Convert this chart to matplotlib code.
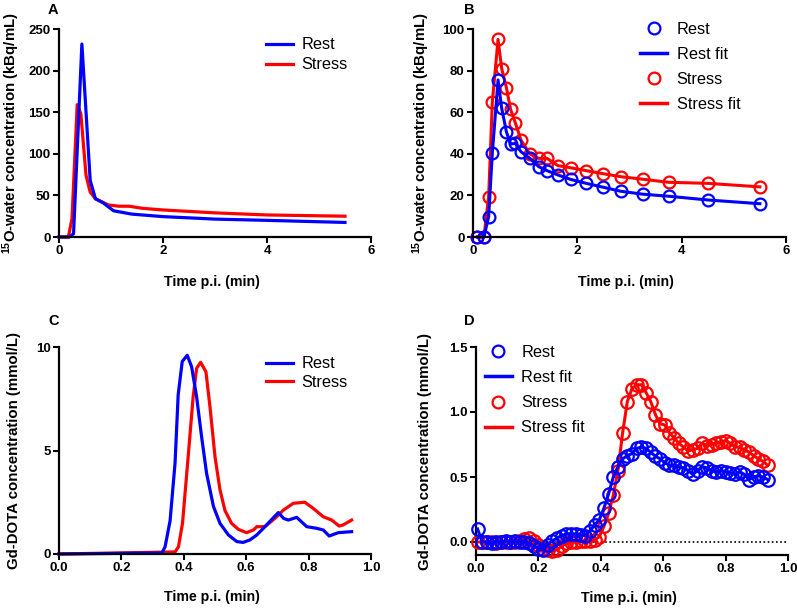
import numpy as np
import matplotlib
matplotlib.use("Agg")
from matplotlib import pyplot as plt
from matplotlib.lines import Line2D

plt.rcParams['font.family'] = ['Liberation Sans', 'DejaVu Sans']
plt.rcParams['font.weight'] = 'bold'
plt.rcParams['axes.labelweight'] = 'bold'
plt.rcParams['mathtext.fontset'] = 'custom'
plt.rcParams['mathtext.rm'] = 'Liberation Sans:bold'
plt.rcParams['mathtext.default'] = 'rm'

BLUE = '#0000ff'
RED = '#ff0000'

# Panel A: 15O-water input curves
rest_a_t = [0.0, 0.2, 0.28, 0.44, 0.6, 0.7, 0.85, 1.05, 1.4, 2.0, 3.0, 4.0, 5.5]
rest_a = [0, 0, 4, 232, 68, 46, 41, 31.5, 27.5, 24.5, 21.5, 20, 17.5]
stress_a_t = [0.0, 0.18, 0.25, 0.35, 0.42, 0.52, 0.6, 0.7, 0.95, 1.15, 1.35, 1.6, 2.0, 3.0, 4.0, 5.5]
stress_a = [0, 0, 22, 159, 148, 74, 54, 46, 38.5, 37, 37, 34.5, 32.5, 29, 26.5, 25]

# Panel B: 15O-water measured points and fits
frames_b = [0.083, 0.21, 0.30, 0.37, 0.48, 0.55, 0.64, 0.72, 0.81, 0.92, 1.09, 1.26,
            1.42, 1.63, 1.87, 2.17, 2.5, 2.83, 3.25, 3.75, 4.5, 5.5]
rest_b = [0, 0, 9.8, 40.2, 75.5, 61.9, 50.6, 44.7, 45, 41, 37.8, 33.8, 31.9, 29.8,
          27.7, 25.8, 23.9, 22.0, 20.6, 19.6, 17.8, 16.0]
stress_b = [0, 0, 19.4, 64.7, 95, 81, 71.8, 61.4, 55, 46.6, 39.9, 37.8, 37.8, 34.3,
            33.3, 31.9, 30.4, 29, 27.8, 26.3, 25.8, 24.1]

# Panel C: Gd-DOTA input curves
rest_c_t = [0.0, 0.33, 0.34, 0.356, 0.372, 0.382, 0.395, 0.411, 0.425, 0.441, 0.457, 0.473,
            0.495, 0.516, 0.543, 0.57, 0.59, 0.612, 0.634, 0.655, 0.68, 0.703, 0.72, 0.735,
            0.762, 0.794, 0.826, 0.847, 0.866, 0.895, 0.938]
rest_c = [0, 0.05, 0.35, 1.6, 4.4, 7.7, 9.3, 9.6, 9.05, 7.6, 5.67, 3.9, 2.3, 1.48, 0.92,
          0.6, 0.56, 0.68, 0.92, 1.24, 1.64, 2.0, 1.72, 1.64, 1.77, 1.32, 1.24, 1.16, 0.87,
          1.03, 1.08]
stress_c_t = [0.0, 0.372, 0.383, 0.396, 0.414, 0.43, 0.441, 0.454, 0.471, 0.484, 0.5, 0.516,
              0.532, 0.553, 0.575, 0.601, 0.623, 0.634, 0.66, 0.692, 0.719, 0.751, 0.788,
              0.815, 0.847, 0.874, 0.898, 0.91, 0.938]
stress_c = [0, 0.1, 0.35, 1.5, 4.7, 7.6, 8.97, 9.26, 8.8, 7.1, 4.7, 3.1, 2.1, 1.48, 1.19,
            1.03, 1.16, 1.32, 1.32, 1.72, 2.12, 2.45, 2.5, 2.2, 1.8, 1.64, 1.35, 1.4, 1.64]

# Panel D: Gd-DOTA measured points and fits
times_d = [0.005, 0.020, 0.035, 0.050, 0.065, 0.080, 0.095, 0.110, 0.125, 0.140, 0.155,
           0.170, 0.185, 0.200, 0.215, 0.230, 0.245, 0.260, 0.275, 0.290, 0.305, 0.320,
           0.335, 0.350, 0.365, 0.380, 0.395, 0.410, 0.425, 0.440, 0.455, 0.470, 0.485,
           0.500, 0.515, 0.530, 0.545, 0.560, 0.575, 0.590, 0.605, 0.620, 0.635, 0.650,
           0.665, 0.680, 0.695, 0.710, 0.725, 0.740, 0.755, 0.770, 0.785, 0.800, 0.815,
           0.830, 0.845, 0.860, 0.875, 0.890, 0.905, 0.920, 0.935]
rest_d = [0.10, 0.00, 0.00, -0.01, 0.00, 0.00, 0.01, 0.00, 0.01, 0.00, 0.00, -0.01, -0.03,
          -0.05, -0.06, -0.02, 0.01, 0.03, 0.05, 0.06, 0.065, 0.06, 0.055, 0.05, 0.085, 0.13,
          0.17, 0.26, 0.37, 0.50, 0.58, 0.64, 0.665, 0.68, 0.72, 0.73, 0.72, 0.69, 0.66,
          0.64, 0.61, 0.59, 0.59, 0.58, 0.57, 0.55, 0.52, 0.55, 0.58, 0.57, 0.55, 0.54, 0.55,
          0.54, 0.53, 0.52, 0.54, 0.52, 0.48, 0.50, 0.51, 0.50, 0.48]
stress_d = [0.00, 0.00, 0.00, 0.00, -0.01, 0.00, 0.00, 0.00, 0.00, 0.01, 0.02, 0.03, 0.01,
            -0.02, -0.05, -0.06, -0.07, -0.06, -0.03, -0.01, 0.00, 0.00, 0.005, 0.01, 0.01,
            0.015, 0.04, 0.12, 0.22, 0.36, 0.55, 0.84, 1.08, 1.18, 1.21, 1.21, 1.15, 1.08,
            0.98, 0.91, 0.90, 0.84, 0.80, 0.76, 0.73, 0.70, 0.71, 0.72, 0.76, 0.74, 0.75,
            0.76, 0.77, 0.78, 0.76, 0.73, 0.73, 0.71, 0.69, 0.665, 0.64, 0.62, 0.59]

W, H = 797, 608
fig = plt.figure(figsize=(W / 100, H / 100), dpi=100)


def px_axes(left, right, top, bottom):
    return fig.add_axes([left / W, 1 - bottom / H, (right - left) / W, (bottom - top) / H])


def style(ax):
    for s in ['top', 'right']:
        ax.spines[s].set_visible(False)
    for s in ['left', 'bottom']:
        ax.spines[s].set_linewidth(1.6)
    ax.tick_params(direction='out', length=4, width=1.5, labelsize=9.5, pad=2)


leg_font = {'weight': 'normal', 'size': 11.8}
ylab_15o = r'$^{15}$O-water concentration (kBq/mL)'
ylab_gd = 'Gd-DOTA concentration (mmol/L)'
XLAB_SIZE = 10.2
YLAB_SIZE = 10.8

# ---- A
axA = px_axes(59, 371, 29, 237)
axA.plot(stress_a_t, stress_a, color=RED, lw=2.3, clip_on=False, label='Stress')
axA.plot(rest_a_t, rest_a, color=BLUE, lw=2.3, clip_on=False, label='Rest')
axA.set_xlim(0, 6)
axA.set_ylim(0, 250)
axA.set_xticks([0, 2, 4, 6])
axA.set_yticks([0, 50, 100, 150, 200, 250])
style(axA)
axA.set_xlabel('Time p.i. (min)', fontsize=XLAB_SIZE)
axA.set_ylabel(ylab_15o, fontsize=YLAB_SIZE)
axA.yaxis.set_label_coords(-0.118, 0.5)
axA.xaxis.set_label_coords(0.49, -0.185)
h, l = axA.get_legend_handles_labels()
axA.legend(h[::-1], l[::-1], loc='upper left', bbox_to_anchor=(0.665, 0.96), frameon=False,
           prop=leg_font, handlelength=1.6, handletextpad=0.55, labelspacing=0.3,
           borderpad=0, borderaxespad=0)

# ---- B
axB = px_axes(473, 786, 29, 237)
axB.plot(frames_b, stress_b, color=RED, lw=2.2, clip_on=False)
axB.plot(frames_b, stress_b, 'o', color=RED, mfc='none', mew=1.6, ms=8.5, clip_on=False)
axB.plot(frames_b, rest_b, color=BLUE, lw=2.2, clip_on=False)
axB.plot(frames_b, rest_b, 'o', color=BLUE, mfc='none', mew=1.6, ms=8.5, clip_on=False)
axB.set_xlim(0, 6)
axB.set_ylim(0, 100)
axB.set_xticks([0, 2, 4, 6])
axB.set_yticks([0, 20, 40, 60, 80, 100])
style(axB)
axB.set_xlabel('Time p.i. (min)', fontsize=XLAB_SIZE)
axB.set_ylabel(ylab_15o, fontsize=YLAB_SIZE)
axB.yaxis.set_label_coords(-0.13, 0.5)
axB.xaxis.set_label_coords(0.49, -0.185)


def fit_legend(ax, anchor):
    hs = [Line2D([], [], ls='none', marker='o', color=BLUE, mfc='none', mew=1.6, ms=8.5),
          Line2D([], [], color=BLUE, lw=2.5),
          Line2D([], [], ls='none', marker='o', color=RED, mfc='none', mew=1.6, ms=8.5),
          Line2D([], [], color=RED, lw=2.5)]
    ax.legend(hs, ['Rest', 'Rest fit', 'Stress', 'Stress fit'], loc='upper left',
              bbox_to_anchor=anchor, frameon=False, prop=leg_font, handlelength=1.6,
              handletextpad=0.6, labelspacing=0.62, borderpad=0, borderaxespad=0)


fit_legend(axB, (0.535, 1.035))

# ---- C
axC = px_axes(59, 371, 347, 554)
axC.plot(stress_c_t, stress_c, color=RED, lw=2.3, clip_on=False, label='Stress')
axC.plot(rest_c_t, rest_c, color=BLUE, lw=2.3, clip_on=False, label='Rest')
axC.set_xlim(0, 1.0)
axC.set_ylim(0, 10)
axC.set_xticks([0.0, 0.2, 0.4, 0.6, 0.8, 1.0])
axC.set_xticklabels(['0.0', '0.2', '0.4', '0.6', '0.8', '1.0'])
axC.set_yticks([0, 5, 10])
style(axC)
axC.set_xlabel('Time p.i. (min)', fontsize=XLAB_SIZE)
axC.set_ylabel(ylab_gd, fontsize=YLAB_SIZE)
axC.yaxis.set_label_coords(-0.122, 0.5)
axC.xaxis.set_label_coords(0.49, -0.175)
h, l = axC.get_legend_handles_labels()
axC.legend(h[::-1], l[::-1], loc='upper left', bbox_to_anchor=(0.665, 0.955), frameon=False,
           prop=leg_font, handlelength=1.6, handletextpad=0.55, labelspacing=0.2,
           borderpad=0, borderaxespad=0)

# ---- D
axD = px_axes(476, 788, 347, 555)
axD.axhline(0, color='black', lw=1.2, ls=(0, (1, 1.5)), zorder=1)
axD.plot(times_d, stress_d, color=RED, lw=2.2, clip_on=False, zorder=2)
axD.plot(times_d, stress_d, 'o', color=RED, mfc='none', mew=1.6, ms=9, clip_on=False, zorder=3)
axD.plot(times_d, rest_d, color=BLUE, lw=2.2, clip_on=False, zorder=4)
axD.plot(times_d, rest_d, 'o', color=BLUE, mfc='none', mew=1.6, ms=9, clip_on=False, zorder=5)
axD.set_xlim(0, 1.0)
axD.set_ylim(-0.1, 1.5)
axD.set_xticks([0.0, 0.2, 0.4, 0.6, 0.8, 1.0])
axD.set_xticklabels(['0.0', '0.2', '0.4', '0.6', '0.8', '1.0'])
axD.set_yticks([0.0, 0.5, 1.0, 1.5])
axD.set_yticklabels(['0.0', '0.5', '1.0', '1.5'])
style(axD)
axD.set_xlabel('Time p.i. (min)', fontsize=XLAB_SIZE)
axD.set_ylabel(ylab_gd, fontsize=YLAB_SIZE)
axD.yaxis.set_label_coords(-0.141, 0.5)
axD.xaxis.set_label_coords(0.49, -0.175)
fit_legend(axD, (0.03, 1.01))

# panel letters
for letter, x, y in [('A', 48, 10), ('B', 464, 10), ('C', 48, 321), ('D', 464, 321)]:
    fig.text(x / W, 1 - y / H, letter, ha='left', va='center', fontsize=10.5, fontweight='bold')

fig.savefig('out.png', dpi=100)
